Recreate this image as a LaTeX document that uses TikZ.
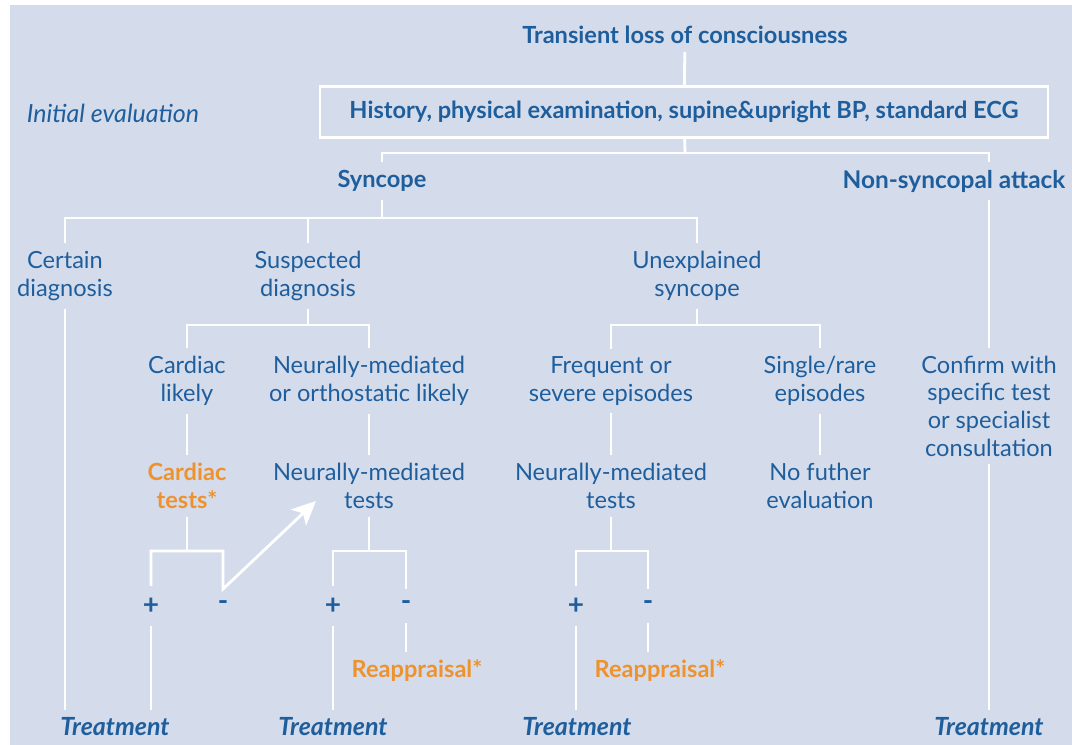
\documentclass[tikz,border=0pt]{standalone}
\usepackage{fontspec}
\setmainfont{Lato}
\usetikzlibrary{positioning,arrows.meta}
\definecolor{tblue}{HTML}{1F5E9C}
\definecolor{torange}{HTML}{EE922E}
\definecolor{tback}{HTML}{D4DCEC}
\tikzset{
  txt/.style={align=center, text=tblue, inner sep=1pt, outer sep=3pt, font=\fontsize{11.8}{13.8}\selectfont},
  hd/.style={txt, font=\fontsize{11.8}{13.8}\selectfont\bfseries},
  warn/.style={hd, text=torange},
  res/.style={txt, font=\fontsize{12.5}{13.8}\selectfont\bfseries\itshape},
  sign/.style={hd, font=\fontsize{14}{14}\selectfont\bfseries, outer sep=5pt},
  wire/.style={draw=white, line width=1.4pt},
}
\begin{document}
\begin{tikzpicture}[x=0.5pt,y=-0.5pt]
    \fill[white] (0,0) rectangle (1072,745);
    \fill[tback] (10,5) rectangle (1072,745);
    \useasboundingbox (0,0) rectangle (1072,745);
    \node[hd] (tloc) at (685,35) {Transient loss of consciousness};
    \node[hd, draw=white, line width=1.4pt, outer sep=0pt, minimum width=364pt, minimum height=25.5pt] (hist) at (684,112) {History, physical examination, supine\&upright BP, standard ECG};
    \node[txt, font=\fontsize{12.5}{13.8}\selectfont\itshape] (init) at (113,113) {Initial evaluation};
    \node[hd] (sync) at (382,181) {Syncope};
    \node[hd, font=\fontsize{12.2}{13.8}\selectfont\bfseries] (nonsync) at (954,181) {Non-syncopal attack};
    \node[txt] (cert) at (65,276) {Certain\\diagnosis};
    \node[txt] (susp) at (308,276) {Suspected\\diagnosis};
    \node[txt] (unexp) at (697,276) {Unexplained\\syncope};
    \node[txt] (card) at (187,381) {Cardiac\\likely};
    \node[txt] (neur) at (369,381) {Neurally-mediated\\or orthostatic likely};
    \node[txt] (freq) at (611,381) {Frequent or\\severe episodes};
    \node[txt] (single) at (820,381) {Single/rare\\episodes};
    \node[txt] (confirm) at (989,406) {Confirm with\\specific test\\or specialist\\consultation};
    \node[warn] (cardtest) at (187,486) {Cardiac\\tests*};
    \node[txt] (neurtest) at (369,486) {Neurally-mediated\\tests};
    \node[txt] (neurtestb) at (611,486) {Neurally-mediated\\tests};
    \node[txt] (nofurther) at (820,486) {No futher\\evaluation};
    \node[sign] (cplus) at (151,606) {+};
    \node[sign] (cminus) at (223,606) {-};
    \node[sign] (nplus) at (333,606) {+};
    \node[sign] (nminus) at (406,606) {-};
    \node[sign] (uplus) at (576,606) {+};
    \node[sign] (uminus) at (648,606) {-};
    \node[warn] (reapa) at (417,671) {Reappraisal*};
    \node[warn] (reapb) at (660,671) {Reappraisal*};
    \node[res] (treata) at (115,727) {Treatment};
    \node[res] (treatb) at (333,727) {Treatment};
    \node[res] (treatc) at (577,727) {Treatment};
    \node[res] (treatd) at (989,727) {Treatment};
    \coordinate (jhist) at (685,153);
    \coordinate (jsync) at (382,218);
    \coordinate (jsusp) at (308,325);
    \coordinate (junexp) at (697,325);
    \coordinate (jcard) at (187,551);
    \coordinate (jneur) at (369,551);
    \coordinate (jneurb) at (611,551);
    \coordinate (tip) at (316,501);
    % top of the tree
    \draw[wire] (tloc) -- (hist);
    \draw[wire] (hist) -- (jhist);
    \draw[wire] (sync.north) |- (jhist) -| (confirm.north |- nonsync.north);
    \draw[wire] (confirm.north |- nonsync.south) -- (confirm.north);
    \draw[wire] (confirm.south) -- (treatd.north);
    % syncope
    \draw[wire] (sync) -- (jsync);
    \draw[wire] (cert.north) |- (jsync) -| (unexp.north);
    \draw[wire] (susp.north) -- (susp.north |- jsync);
    \draw[wire] (cert.south) -- (cert.south |- treata.north);
    % suspected diagnosis
    \draw[wire] (susp) -- (jsusp);
    \draw[wire] (card.north) |- (jsusp) -| (neur.north);
    \draw[wire] (card) -- (cardtest);
    \draw[wire] (neur) -- (neurtest);
    \draw[wire] (cardtest) -- (jcard);
    \draw[wire, -{Stealth[length=12pt,width=11pt,inset=3pt]}] (cplus.north) |- (jcard) -| (cminus.north) -- (tip);
    \draw[wire] (cplus.south) -- (cplus.south |- treata.north);
    \draw[wire] (neurtest) -- (jneur);
    \draw[wire] (nplus.north) |- (jneur) -| (nminus.north);
    \draw[wire] (nplus.south) -- (treatb.north);
    \draw[wire] (nminus.south) -- (nminus.south |- reapa.north);
    % unexplained syncope
    \draw[wire] (unexp) -- (junexp);
    \draw[wire] (freq.north) |- (junexp) -| (single.north);
    \draw[wire] (freq) -- (neurtestb);
    \draw[wire] (single) -- (nofurther);
    \draw[wire] (neurtestb) -- (jneurb);
    \draw[wire] (uplus.north) |- (jneurb) -| (uminus.north);
    \draw[wire] (uplus.south) -- (uplus.south |- treatc.north);
    \draw[wire] (uminus.south) -- (uminus.south |- reapb.north);
\end{tikzpicture}
\end{document}
